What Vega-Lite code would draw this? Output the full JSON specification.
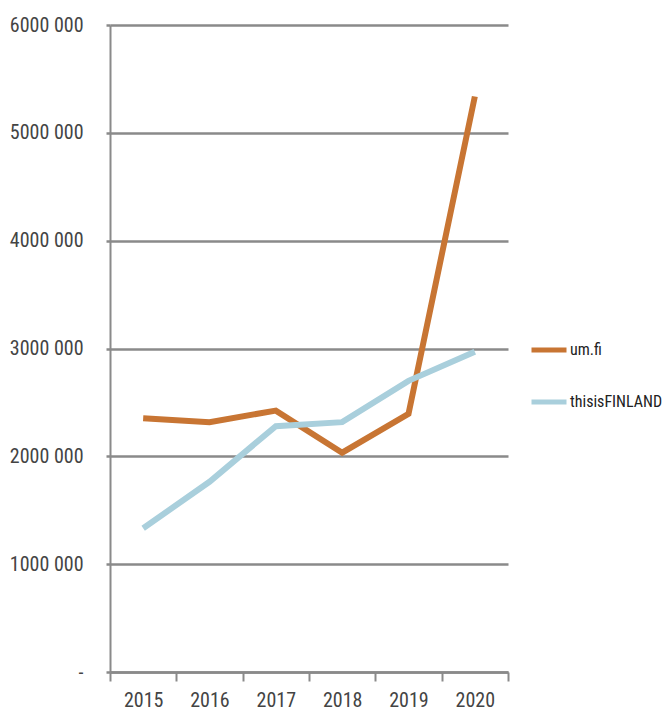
{
  "$schema": "https://vega.github.io/schema/vega-lite/v6.json",
  "autosize": "none",
  "width": 398,
  "height": 647,
  "padding": {"left": 110, "top": 25, "right": 159, "bottom": 51},
  "background": "white",
  "config": {
    "view": {"stroke": null},
    "font": "Liberation Sans Narrow, Roboto Condensed, Noto Sans Condensed, Open Sans Condensed, DejaVu Sans Condensed, Liberation Sans",
    "axis": {"labelFont": "Liberation Sans Narrow, Roboto Condensed, Noto Sans Condensed, Open Sans Condensed, DejaVu Sans Condensed, Liberation Sans", "labelColor": "#444444"},
    "legend": {"labelFont": "Liberation Sans Narrow, Roboto Condensed, Noto Sans Condensed, Open Sans Condensed, DejaVu Sans Condensed, Liberation Sans", "labelColor": "#222222"}
  },
  "data": {
    "values": [
      {"year": "2015", "series": "um.fi", "visits": 2354000},
      {"year": "2016", "series": "um.fi", "visits": 2317000},
      {"year": "2017", "series": "um.fi", "visits": 2424000},
      {"year": "2018", "series": "um.fi", "visits": 2034000},
      {"year": "2019", "series": "um.fi", "visits": 2394000},
      {"year": "2020", "series": "um.fi", "visits": 5337000},
      {"year": "2015", "series": "thisisFINLAND", "visits": 1333000},
      {"year": "2016", "series": "thisisFINLAND", "visits": 1764000},
      {"year": "2017", "series": "thisisFINLAND", "visits": 2280000},
      {"year": "2018", "series": "thisisFINLAND", "visits": 2317000},
      {"year": "2019", "series": "thisisFINLAND", "visits": 2700000},
      {"year": "2020", "series": "thisisFINLAND", "visits": 2970000}
    ]
  },
  "mark": {"type": "line", "strokeWidth": 6, "strokeJoin": "miter"},
  "encoding": {
    "x": {
      "field": "year",
      "type": "ordinal",
      "bandPosition": 0.5,
      "scale": {"type": "band", "paddingInner": 0, "paddingOuter": 0},
      "axis": {
        "title": null,
        "tickBand": "extent",
        "labelAngle": 0,
        "labelFontSize": 20,
        "labelPadding": 9,
        "tickSize": 9,
        "tickWidth": 2,
        "tickColor": "#8a8a8a",
        "domainColor": "#8a8a8a",
        "domainWidth": 2.5,
        "grid": false
      }
    },
    "y": {
      "field": "visits",
      "type": "quantitative",
      "scale": {"domain": [0, 6000000], "nice": false},
      "axis": {
        "title": null,
        "values": [0, 1000000, 2000000, 3000000, 4000000, 5000000, 6000000],
        "labelExpr": "datum.value == 0 ? '-' : (datum.value / 1000) + ' 000'",
        "labelFontSize": 20,
        "labelPadding": 23,
        "tickSize": 4,
        "tickWidth": 2.5,
        "tickColor": "#8a8a8a",
        "domainColor": "#8a8a8a",
        "domainWidth": 2,
        "grid": true,
        "gridColor": "#8a8a8a",
        "gridWidth": 2.5,
        "gridOpacity": 1
      }
    },
    "color": {
      "field": "series",
      "type": "nominal",
      "sort": ["um.fi", "thisisFINLAND"],
      "scale": {"domain": ["um.fi", "thisisFINLAND"], "range": ["#c87533", "#a9cfdc"]},
      "legend": {
        "title": null,
        "orient": "none",
        "legendX": 419,
        "legendY": 305,
        "symbolType": "stroke",
        "symbolSize": 1225,
        "symbolStrokeWidth": 5,
        "labelFontSize": 16,
        "labelOffset": 1,
        "labelLimit": 120,
        "rowPadding": 22
      }
    }
  }
}
